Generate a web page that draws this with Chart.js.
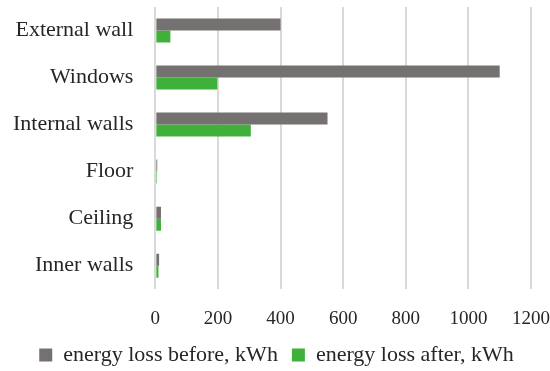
<!DOCTYPE html>
<html><head><meta charset="utf-8">
<script src="https://cdn.jsdelivr.net/npm/chart.js@4"></script>
<style>html,body{margin:0;padding:0;background:#fff;}canvas{display:block;}</style>
</head><body>
<canvas id="c" width="550" height="371"></canvas>
<script>
const categories = ["External wall", "Windows", "Internal walls", "Floor", "Ceiling", "Inner walls"];
const lossBefore = [400, 1100, 550, 6, 18, 12];
const lossAfter = [48, 198, 305, 5, 18, 10];
const seriesNames = ["energy loss before, kWh", "energy loss after, kWh"];
const xTicks = [0, 200, 400, 600, 800, 1000, 1200];

const font = "'Liberation Serif', 'DejaVu Serif', serif";
new Chart(document.getElementById('c'), {
  type: 'bar',
  data: {
    labels: categories,
    datasets: [
      {label: seriesNames[0], data: lossBefore, backgroundColor: '#767171', barPercentage: 1, categoryPercentage: 0.51},
      {label: seriesNames[1], data: lossAfter, backgroundColor: '#3fb13a', barPercentage: 1, categoryPercentage: 0.51}
    ]
  },
  options: {
    indexAxis: 'y',
    responsive: false,
    animation: false,
    layout: {padding: {top: 7, right: 8, left: 11, bottom: -5}},
    plugins: {
      legend: {
        position: 'bottom',
        labels: {font: {family: font, size: 22}, color: '#262626', boxWidth: 13, boxHeight: 13, padding: 14}
      },
      tooltip: {enabled: false}
    },
    scales: {
      x: {
        min: 0, max: 1200,
        afterBuildTicks: (s) => { s.ticks = xTicks.map(v => ({value: v})); },
        grid: {color: '#d9d9d9', lineWidth: 2, drawTicks: true, tickLength: 18, tickColor: 'rgba(0,0,0,0)'},
        border: {display: false},
        ticks: {font: {family: font, size: 19}, color: '#262626', padding: 0, callback: (v) => String(v)}
      },
      y: {
        afterFit: (s) => { s.paddingTop = 0; s.paddingBottom = 0; },
        grid: {display: true, drawOnChartArea: false, drawTicks: true, tickLength: 20, tickColor: 'rgba(0,0,0,0)'},
        border: {display: false},
        ticks: {font: {family: font, size: 22}, color: '#262626', padding: 2}
      }
    }
  }
});
</script>
</body></html>
